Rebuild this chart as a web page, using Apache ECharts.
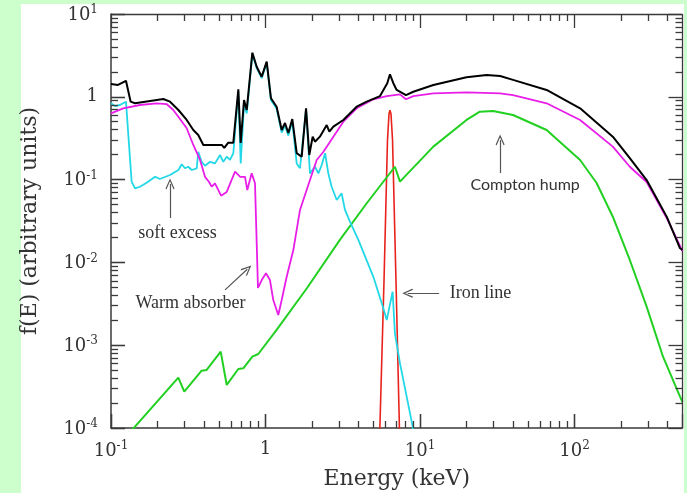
<!DOCTYPE html>
<html><head><meta charset="utf-8">
<script src="https://cdn.jsdelivr.net/npm/echarts@6/dist/echarts.min.js"></script>
<style>
html,body{margin:0;padding:0;background:#ccffcc}
#wrap{position:relative;width:687px;height:493px;background:#ccffcc;overflow:hidden}
#panel{position:absolute;left:21px;top:4px;width:663px;height:489px;background:#ffffff}
#c{position:absolute;left:0;top:0;width:687px;height:493px}
#err{position:absolute;left:130px;top:440px;color:#c00;font:11px sans-serif}
</style>
</head><body><div id="wrap"><div id="panel"></div><div id="c"></div><div id="err"></div></div>
<script>
window.onerror = function(m){ document.getElementById('err').textContent = 'ERR: ' + m; };
// ---- data (energy in keV, f(E) arbitrary units) ----
const totalE = [0.1,0.111,0.125,0.134,0.143,0.198,0.218,0.241,0.273,0.309,0.341,0.367,0.396,0.521,0.541,0.574,0.619,0.667,0.691,0.726,0.756,0.822,0.877,0.945,1.018,1.085,1.18,1.273,1.337,1.405,1.491,1.592,1.715,1.83,1.92,2.02,2.09,2.25,2.49,2.59,2.75,3.19,3.89,4.52,5.51,6.14,6.39,6.72,7.06,8.11,9.05,12.2,20,27,33,40,66,108.7,177,228,293,395,482,500];
const totalF = [1.43,1.39,1.56,0.873,0.835,0.915,0.94,0.873,0.693,0.525,0.397,0.346,0.262,0.262,0.241,0.279,0.279,1.23,0.277,0.915,0.693,3.41,2.31,1.75,2.66,0.959,0.759,0.397,0.483,0.366,0.539,0.209,0.189,0.726,0.198,0.33,0.287,0.33,0.456,0.379,0.436,0.525,0.759,0.873,1.02,1.46,1.87,1.46,1.21,1.05,1.15,1.39,1.72,1.83,1.78,1.60,1.21,0.726,0.33,0.182,0.0988,0.0357,0.0148,0.0141];

const softE = [0.1,0.106,0.114,0.125,0.136,0.143,0.154,0.17,0.193,0.207,0.241,0.273,0.287,0.301,0.316,0.333,0.359,0.367,0.386,0.406,0.4375,0.471,0.508,0.533,0.561,0.589,0.619,0.667,0.691,0.726,0.756,0.822,0.877,0.945,1.018,1.085,1.18,1.273,1.337,1.405,1.491,1.592,1.672,1.83,1.94,2.09,2.20,2.31,2.43,2.55,2.68,2.89,3.11,3.27,3.52,3.99,4.99,5.79,6.09,6.65,6.88,7.42,8.97,9.3];
const softF = [0.835,0.774,0.796,0.873,0.0944,0.0785,0.082,0.0918,0.1084,0.1016,0.1137,0.1306,0.153,0.137,0.143,0.1306,0.137,0.217,0.164,0.147,0.164,0.157,0.198,0.164,0.189,0.1726,0.208,1.14,0.157,0.80,0.63,3.3,2.22,1.68,2.56,0.91,0.72,0.37,0.45,0.34,0.50,0.157,0.137,0.70,0.119,0.143,0.119,0.150,0.208,0.119,0.082,0.0567,0.0683,0.043,0.031,0.0187,0.0067,0.00279,0.00201,0.00443,0.00139,0.000604,0.000104,0.00006];

const absE = [0.1,0.12,0.154,0.198,0.229,0.253,0.273,0.309,0.341,0.377,0.406,0.43,0.449,0.471,0.516,0.561,0.635,0.686,0.737,0.762,0.814,0.855,0.894,0.945,1.007,1.069,1.123,1.21,1.273,1.371,1.514,1.672,1.94,2.145,2.37,2.75,3.19,3.89,4.99,6.09,7.42,8.11,9.05,12.2,20,33,40,66,108.7,177,228,293,395,500];
const absF = [0.632,0.726,0.796,0.835,0.818,0.693,0.575,0.417,0.262,0.1726,0.108,0.094,0.082,0.09,0.064,0.071,0.1246,0.108,0.108,0.0748,0.119,0.0902,0.00491,0.00612,0.00738,0.00612,0.00351,0.00232,0.00351,0.0067,0.0141,0.043,0.0988,0.1726,0.217,0.33,0.50,0.726,0.933,1.02,1.07,0.933,1.02,1.10,1.13,1.10,1.05,0.835,0.525,0.25,0.143,0.0935,0.0344,0.0137];

const reflE = [0.13,0.2727,0.298,0.386,0.416,0.513,0.561,0.667,0.718,0.822,0.898,1.18,1.857,3.03,4.52,6.88,7.42,12.2,20,24.4,29.7,40,66,108.7,139,177,228,293,374,482,500];
const reflF = [0.000085,0.000406,0.000275,0.000492,0.000502,0.000836,0.000331,0.000516,0.000526,0.000726,0.000783,0.00153,0.00491,0.0187,0.0518,0.143,0.0944,0.25,0.525,0.661,0.674,0.603,0.397,0.1726,0.091,0.0356,0.0107,0.00292,0.000726,0.000239,0.000206];

const ironE = [5.47,5.85,6.16,6.30,6.39,6.49,6.64,6.99,7.39];
const ironF = [0.000072,0.00612,0.30,0.62,0.69,0.62,0.30,0.00612,0.000072];

// ---- axes ticks ----
const xMajor = [0.1,1,10,100];
const xMinor = [0.2,0.3,0.4,0.5,0.6,0.7,0.8,0.9,2,3,4,5,6,7,8,9,20,30,40,50,60,70,80,90,200,300,400];
const yMajor = [0.0001,0.001,0.01,0.1,1,10];
const yMinor = [0.0002,0.0003,0.0004,0.0005,0.0006,0.0007,0.0008,0.0009,0.002,0.003,0.004,0.005,0.006,0.007,0.008,0.009,0.02,0.03,0.04,0.05,0.06,0.07,0.08,0.09,0.2,0.3,0.4,0.5,0.6,0.7,0.8,0.9,2,3,4,5,6,7,8,9];

// ---- annotations ----
const arrows = [
  [[0.241,0.0344],[0.241,0.0885]],
  [[0.547,0.00465],[0.762,0.00826]],
  [[13.3,0.00424],[8.33,0.00424]],
  [[33,0.12],[33,0.30]]
];
const notes = [
  {text:'soft excess', at:[0.269,0.0223], font:'Liberation Serif', align:'center'},
  {text:'Warm absorber', at:[0.327,0.00324], font:'Liberation Serif', align:'center'},
  {text:'Iron line', at:[15.6,0.00424], font:'Liberation Serif', align:'left'},
  {text:'Compton hump', at:[47.9,0.086], font:'Lato', align:'center'}
];

const zip = (a,b)=>a.map((v,i)=>[v,b[i]]);
const AX = '#3a3a3a';
const XMIN = 0.1, XMAX = 500, YMIN = 0.0001, YMAX = 10;
// edges nudged a hair inside the axis extents so mark lines are not filtered out
const NUDGE = 1.002;
const XL = XMIN*NUDGE, XR = XMAX/NUDGE, YB = YMIN*NUDGE, YT = YMAX/NUDGE;
// tick lengths as multiplicative steps along the log axes (style only)
const FY_MAJ = Math.pow(10, 0.169), FY_MIN = Math.pow(10, 0.0845);
const FX_MAJ = Math.pow(10, 0.0906), FX_MIN = Math.pow(10, 0.0453);
function supLabel(v){
  const e = Math.round(Math.log10(v));
  if (e === 0) return '{b|1}';
  if (e === 1) return '{b|10}{s|1}';
  return '{b|10}{s|' + (e<0?'-':'') + Math.abs(e) + '}';
}
const rich = {
  b:{fontFamily:'DejaVu Serif', fontSize:18, color:'#333', verticalAlign:'bottom'},
  s:{fontFamily:'DejaVu Serif', fontSize:12, color:'#333', verticalAlign:'bottom', padding:[0,0,8,0]}
};
function lineSeries(name, data, color, w, z){
  return {name, type:'line', data, showSymbol:false, symbol:'none',
    lineStyle:{color, width:w}, itemStyle:{color}, z, clip:true, silent:true};
}
// frame + ticks as mark lines in data space
const tickLines = [];
tickLines.push([{coord:[XL, YT]},{coord:[XR, YT]}]);
tickLines.push([{coord:[XR, YB]},{coord:[XR, YT]}]);
function xt(v, f){
  const x = Math.min(Math.max(v, XL), XR);
  tickLines.push([{coord:[x, YB]},{coord:[x, YMIN*f]}]);
  tickLines.push([{coord:[x, YT]},{coord:[x, YMAX/f]}]);
}
function yt(v, f){
  const y = Math.min(Math.max(v, YB), YT);
  tickLines.push([{coord:[XL, y]},{coord:[XMIN*f, y]}]);
  tickLines.push([{coord:[XR, y]},{coord:[XMAX/f, y]}]);
}
xMajor.forEach(v=>xt(v, FY_MAJ)); xMinor.forEach(v=>xt(v, FY_MIN));
yMajor.forEach(v=>yt(v, FX_MAJ)); yMinor.forEach(v=>yt(v, FX_MIN));

const chev = 'path://M5,0 L10,9 L9,10 L5,2.6 L1,10 L0,9 Z';
const chart = echarts.init(document.getElementById('c'), null, {renderer:'canvas'});
chart.setOption({
  animation:false,
  backgroundColor:'transparent',
  grid:{left:111, right:4.5, top:14, bottom:65, outerBoundsMode:'none', containLabel:false},
  xAxis:{type:'log', logBase:10, min:XMIN, max:XMAX, position:'bottom', splitLine:{show:false},
    axisLine:{show:true, onZero:false, lineStyle:{color:AX, width:1.5}},
    axisTick:{show:true, inside:true, length:14, lineStyle:{color:AX, width:1.3}},
    axisLabel:{show:true, margin:12, customValues:xMajor, formatter:supLabel, rich:rich},
    name:'Energy (keV)', nameLocation:'middle', nameGap:40,
    nameTextStyle:{fontFamily:'DejaVu Serif', fontSize:22, color:'#333'}},
  yAxis:{type:'log', logBase:10, min:YMIN, max:YMAX, position:'left', splitLine:{show:false},
    axisLine:{show:true, onZero:false, lineStyle:{color:AX, width:1.5}},
    axisTick:{show:true, inside:true, length:14, lineStyle:{color:AX, width:1.3}},
    axisLabel:{show:true, margin:13, customValues:yMajor, formatter:supLabel, rich:rich},
    name:'f(E) (arbitrary units)', nameLocation:'middle', nameGap:70,
    nameTextStyle:{fontFamily:'DejaVu Serif', fontSize:22, color:'#333'}},
  series:[
    lineSeries('Iron line', zip(ironE, ironF), '#e8231c', 1.6, 2),
    lineSeries('Reflection', zip(reflE, reflF), '#22d022', 2, 3),
    lineSeries('Soft excess', zip(softE, softF), '#22d8e6', 1.8, 4),
    lineSeries('Absorbed', zip(absE, absF), '#e81ee8', 1.8, 5),
    lineSeries('Total', zip(totalE, totalF), '#000000', 2, 6),
    {type:'line', data:[], silent:true, z:7,
     markLine:{silent:true, animation:false, symbol:['none', chev], symbolSize:[9,11],
       lineStyle:{color:'#555', width:1.2, type:'solid'}, label:{show:false},
       emphasis:{disabled:true},
       data: arrows.map(a=>[{coord:a[0]},{coord:a[1]}])},
     markPoint:{silent:true, animation:false, symbol:'rect', symbolSize:1, itemStyle:{color:'rgba(0,0,0,0)'},
       data: notes.map(n=>({coord:n.at, value:n.text,
         label:{show:true, position:'inside', formatter:n.text, fontFamily:n.font,
           fontSize: n.font==='Lato'?16:18, color:'#333', align:n.align, verticalAlign:'middle'}}))}
    },
    {type:'line', data:[], silent:true, z:8,
     markLine:{silent:true, animation:false, symbol:['none','none'], symbolSize:[1,1],
       lineStyle:{color:AX, width:1.3, type:'solid'}, label:{show:false},
       emphasis:{disabled:true}, data: tickLines}
    }
  ]
});
</script></body></html>
